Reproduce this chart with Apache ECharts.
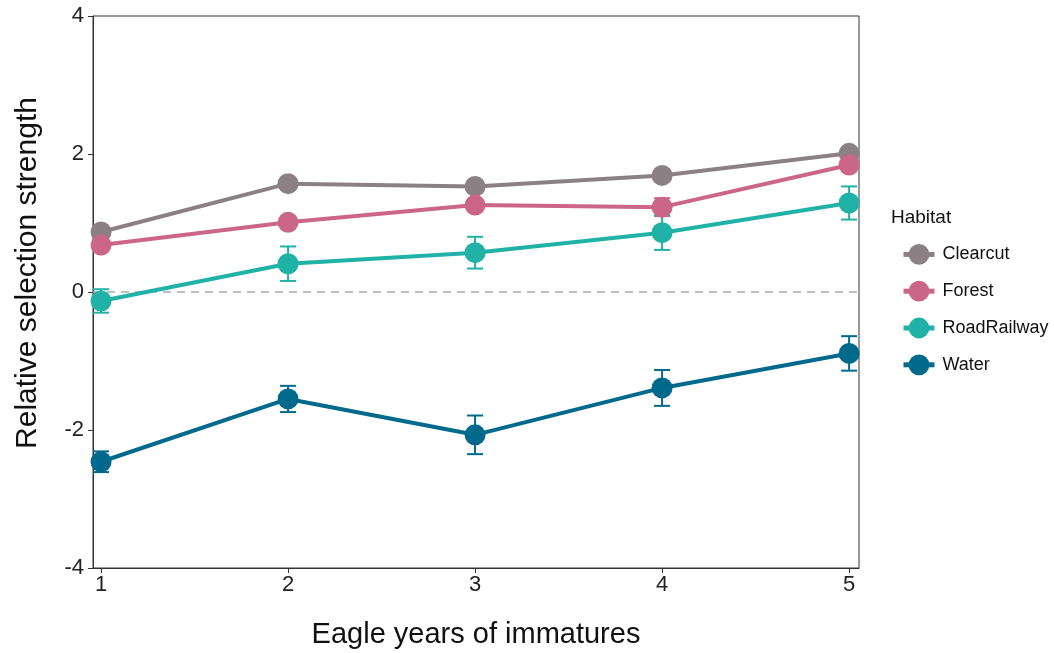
<!DOCTYPE html>
<html>
<head>
<meta charset="utf-8">
<script src="https://cdn.jsdelivr.net/npm/echarts@6/dist/echarts.min.js"></script>
<style>
  html, body { margin: 0; padding: 0; background: #fff; }
  #chart { width: 1054px; height: 653px; }
</style>
</head>
<body>
<div id="chart"></div>
<script>
    // eagle years and habitat estimates (mean, se)
    var years = [1, 2, 3, 4, 5];
    var habitats = ["Clearcut", "Forest", "RoadRailway", "Water"];
    var colors = ["#8b8083", "#cc6688", "#20b2a6", "#016a8c"];

    var clearcut = [0.87, 1.57, 1.53, 1.69, 2.01];
    var clearcutErr = [0.06, 0.06, 0.07, 0.08, 0.07];
    var forest = [0.68, 1.01, 1.26, 1.23, 1.84];
    var forestErr = [0.05, 0.05, 0.07, 0.13, 0.07];
    var roadRailway = [-0.13, 0.41, 0.57, 0.86, 1.29];
    var roadRailwayErr = [0.17, 0.25, 0.23, 0.25, 0.24];
    var water = [-2.46, -1.55, -2.07, -1.39, -0.89];
    var waterErr = [0.15, 0.19, 0.28, 0.26, 0.25];

    var means = [clearcut, forest, roadRailway, water];
    var errs = [clearcutErr, forestErr, roadRailwayErr, waterErr];

    var chartDom = document.getElementById("chart");
    var myChart = echarts.init(chartDom);

    function errorBar(color) {
        return function (params, api) {
            var x = api.value(0);
            var lo = api.coord([x, api.value(1)]);
            var hi = api.coord([x, api.value(2)]);
            var w = 8;
            var style = { stroke: color, lineWidth: 2 };
            return {
                type: "group",
                children: [
                    { type: "line", shape: { x1: lo[0], y1: lo[1], x2: hi[0], y2: hi[1] }, style: style },
                    { type: "line", shape: { x1: lo[0] - w, y1: lo[1], x2: lo[0] + w, y2: lo[1] }, style: style },
                    { type: "line", shape: { x1: hi[0] - w, y1: hi[1], x2: hi[0] + w, y2: hi[1] }, style: style }
                ]
            };
        };
    }

    var series = [];
    habitats.forEach(function (name, i) {
        series.push({
            name: name + " err",
            type: "custom",
            renderItem: errorBar(colors[i]),
            data: years.map(function (yr, k) {
                return [yr, means[i][k] - errs[i][k], means[i][k] + errs[i][k]];
            }),
            z: 2,
            silent: true
        });
    });
    habitats.forEach(function (name, i) {
        var s = {
            name: name,
            type: "line",
            data: years.map(function (yr, k) { return [yr, means[i][k]]; }),
            symbol: "circle",
            symbolSize: 21,
            color: colors[i],
            lineStyle: { width: 4, color: colors[i] },
            itemStyle: { color: colors[i] },
            z: 3
        };
        if (i === 0) {
            // dashed reference line at zero
            s.markLine = {
                silent: true,
                symbol: "none",
                label: { show: false },
                lineStyle: { color: "#aaaaaa", type: [8, 6], width: 1.5 },
                data: [{ yAxis: 0 }],
                z: 1
            };
        }
        series.push(s);
    });

    var option = {
        animation: false,
        backgroundColor: "#ffffff",
        textStyle: { fontFamily: "Liberation Sans, Arial, sans-serif" },
        title: {
            text: "Habitat",
            left: 886,
            top: 203,
            textStyle: { fontSize: 19, fontWeight: "normal", color: "#111" }
        },
        legend: {
            data: habitats,
            orient: "vertical",
            left: 896,
            top: 239,
            itemGap: 16,
            itemWidth: 31,
            itemHeight: 26,
            lineStyle: { width: 5 },
            textStyle: { fontSize: 18, color: "#111", padding: [0, 0, 0, 3] }
        },
        grid: {
            left: 93,
            right: 195,
            top: 16,
            bottom: 85,
            outerBoundsMode: "none",
            show: true,
            borderColor: "#333",
            borderWidth: 1
        },
        xAxis: {
            type: "value",
            min: 0.957,
            max: 5.053,
            name: "Eagle years of immatures",
            nameLocation: "middle",
            nameGap: 52,
            nameTextStyle: { fontSize: 29, color: "#111" },
            axisLine: { onZero: false, lineStyle: { color: "#333" } },
            axisTick: { show: true, customValues: years, length: 5, lineStyle: { color: "#333" } },
            axisLabel: { customValues: years, fontSize: 22, color: "#222", margin: 6 },
            splitLine: { show: false }
        },
        yAxis: {
            type: "value",
            min: -4,
            max: 4,
            interval: 2,
            name: "Relative selection strength",
            nameLocation: "middle",
            nameGap: 50,
            nameTextStyle: { fontSize: 30, color: "#111", padding: [0, 0, 0, 38] },
            axisLine: { show: true, onZero: false, lineStyle: { color: "#333" } },
            axisTick: { show: true, length: 5, lineStyle: { color: "#333" } },
            axisLabel: { fontSize: 22, color: "#222", margin: 9 },
            splitLine: { show: false }
        },
        series: series
    };

    option && myChart.setOption(option);
</script>
</body>
</html>
